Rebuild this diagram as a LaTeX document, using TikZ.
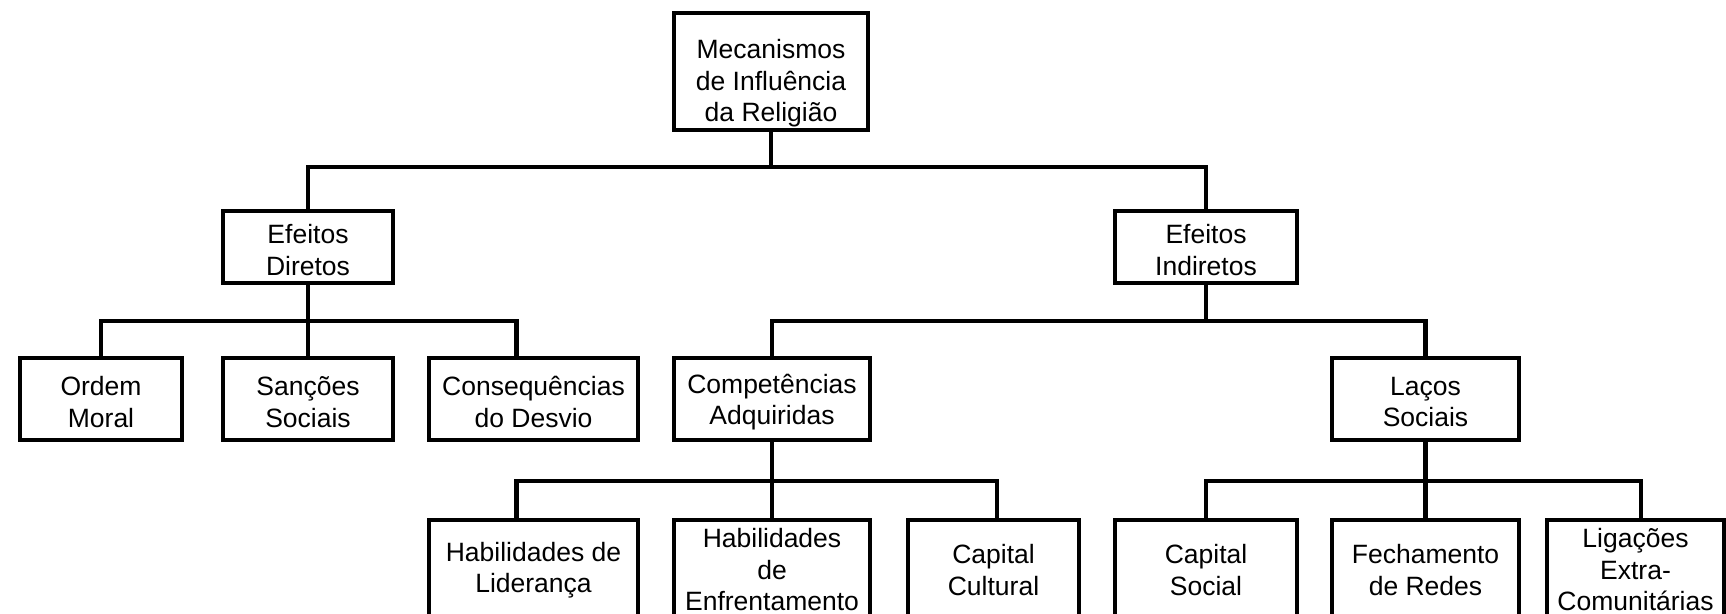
\documentclass[tikz,border=0pt]{standalone}
\usepackage{fontspec}
\setmainfont{Liberation Sans}
\usetikzlibrary{calc}
\begin{document}
\begin{tikzpicture}[x=1pt,y=1pt,
  box/.style={draw=black, line width=3.3pt, fill=white, inner sep=0pt},
  txt/.style={align=center, inner sep=0pt, font=\fontsize{26.5}{31.5}\selectfont},
  conn/.style={draw=black, line width=4.5pt, line join=miter},
]
\clip (0,0) rectangle (1726,-613);
\useasboundingbox (0,0) rectangle (1726,-613);

% bus levels
\coordinate (b1) at (0,-167);
\coordinate (b2) at (0,-321);
\coordinate (b3) at (0,-481);

% level 0
\node[box, minimum width=194pt, minimum height=117pt,
  label={[txt,yshift=-12pt]center:{Mecanismos\\de Influência\\da Religião}}] (root) at (771,-71.5) {};
% level 1
\node[box, minimum width=170pt, minimum height=72pt,
  label={[txt,yshift=-3pt]center:{Efeitos\\Diretos}}] (ed) at (308,-247) {};
\node[box, minimum width=182pt, minimum height=72pt,
  label={[txt,yshift=-3pt]center:{Efeitos\\Indiretos}}] (ei) at (1206,-247) {};
% level 2
\node[box, minimum width=162pt, minimum height=82pt,
  label={[txt,yshift=-3pt]center:{Ordem\\Moral}}] (ordem) at (101,-399) {};
\node[box, minimum width=170pt, minimum height=82pt,
  label={[txt,yshift=-3pt]center:{Sanções\\Sociais}}] (sancoes) at (308,-399) {};
\node[box, minimum width=209pt, minimum height=82pt,
  label={[txt,yshift=-3pt]center:{Consequências\\do Desvio}}] (conseq) at (533.5,-399) {};
\node[box, minimum width=196pt, minimum height=82pt,
  label={[txt,yshift=-3pt]center:{Competências\\Adquiridas}}] (comp) at (772,-399) {};
\node[box, minimum width=187pt, minimum height=82pt,
  label={[txt,yshift=-3pt]center:{Laços\\Sociais}}] (lacos) at (1425.5,-399) {};
% level 3
\node[box, minimum width=209pt, minimum height=100pt,
  label={[txt]center:{Habilidades de\\Liderança}}] (lider) at (533.5,-570) {};
\node[box, minimum width=196pt, minimum height=100pt,
  label={[txt]center:{Habilidades\\de\\Enfrentamento}}] (enfr) at (772,-570) {};
\node[box, minimum width=171pt, minimum height=100pt,
  label={[txt]center:{Capital\\Cultural}}] (cult) at (993.5,-570) {};
\node[box, minimum width=182pt, minimum height=100pt,
  label={[txt]center:{Capital\\Social}}] (csoc) at (1206,-570) {};
\node[box, minimum width=187pt, minimum height=100pt,
  label={[txt]center:{Fechamento\\de Redes}}] (fech) at (1425.5,-570) {};
\node[box, minimum width=177pt, minimum height=100pt,
  label={[txt]center:{Ligações\\Extra-\\Comunitárias}}] (lig) at (1635.5,-570) {};

% off-centre attachment points
\coordinate (conseqtop) at ($(conseq.north west)!0.42!(conseq.north east)$);
\coordinate (lidertop) at ($(lider.north west)!0.42!(lider.north east)$);
\coordinate (culttop) at ($(cult.north west)!0.52!(cult.north east)$);
\coordinate (ligtop) at ($(lig.north west)!0.53!(lig.north east)$);

% connectors level 0 -> 1
\draw[conn] (root.south) -- (root.south |- b1);
\draw[conn] (ed.north) -- (ed.north |- b1) -- (ei.north |- b1) -- (ei.north);
% level 1 -> 2 (left)
\draw[conn] (ed.south) -- (ed.south |- b2);
\draw[conn] (ordem.north) -- (ordem.north |- b2) -- (conseqtop |- b2) -- (conseqtop);
\draw[conn] (sancoes.north) -- (sancoes.north |- b2);
% level 1 -> 2 (right)
\draw[conn] (ei.south) -- (ei.south |- b2);
\draw[conn] (comp.north) -- (comp.north |- b2) -- (lacos.north |- b2) -- (lacos.north);
% level 2 -> 3 (competencias)
\draw[conn] (comp.south) -- (comp.south |- b3);
\draw[conn] (lidertop) -- (lidertop |- b3) -- (culttop |- b3) -- (culttop);
\draw[conn] (enfr.north) -- (enfr.north |- b3);
% level 2 -> 3 (lacos)
\draw[conn] (lacos.south) -- (lacos.south |- b3);
\draw[conn] (csoc.north) -- (csoc.north |- b3) -- (ligtop |- b3) -- (ligtop);
\draw[conn] (fech.north) -- (fech.north |- b3);
\end{tikzpicture}
\end{document}
